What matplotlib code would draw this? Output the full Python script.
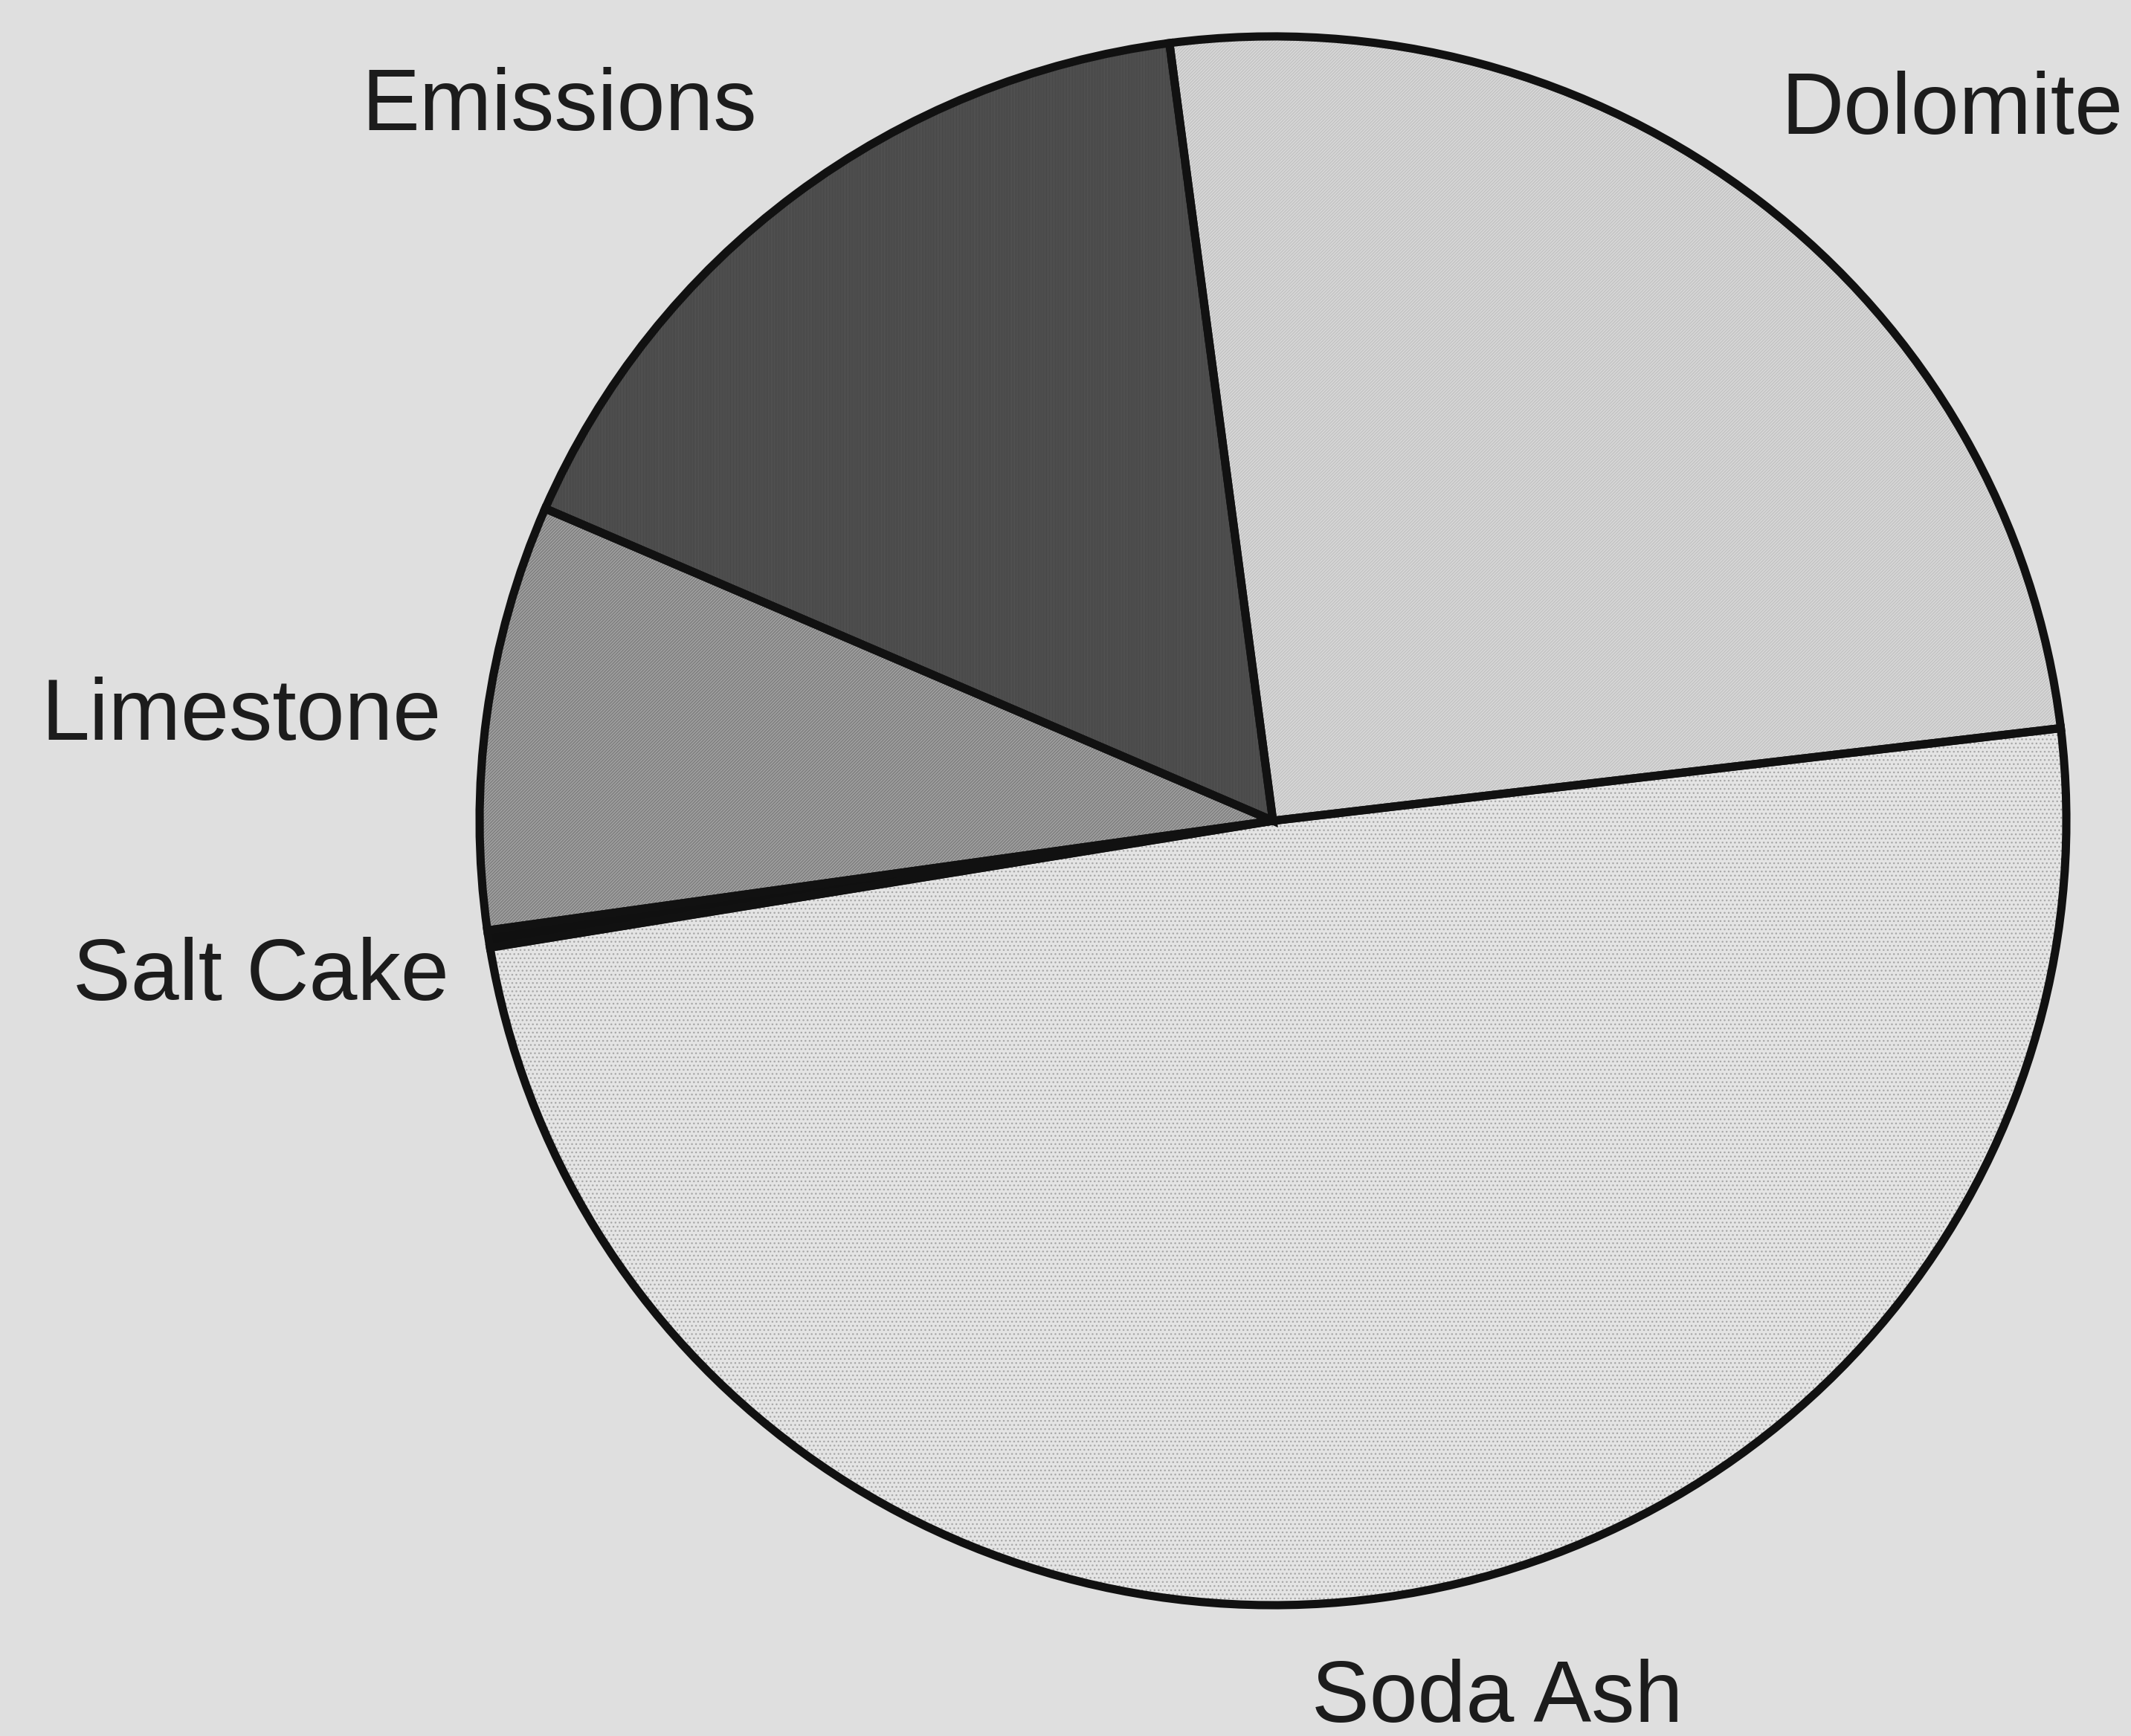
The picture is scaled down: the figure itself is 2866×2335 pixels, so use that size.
import matplotlib.pyplot as plt

# batch composition, clockwise from the top
materials = ['Dolomite', 'Soda Ash', 'Salt Cake', 'Limestone', 'Emissions']
share = [25.2, 49.3, 0.35, 8.75, 16.4]

# fill / hatch styling per slice
face_colors = ['#d9d9d9', '#e4e4e4', '#101010', '#a2a2a2', '#5e5e5e']
hatch_colors = ['#c2c2c2', '#a8a8a8', '#101010', '#7c7c7c', '#444444']
hatches = ['////////', '...', '', '////////', '||||||||']

# label anchor (x, baseline y, alignment) in pie units
label_pos = [(0.640, 0.876, 'left'), (0.049, -1.149, 'left'),
             (-1.039, -0.228, 'right'), (-1.048, 0.103, 'right'),
             (-0.650, 0.881, 'right')]

plt.rcParams['font.family'] = ['Liberation Sans', 'DejaVu Sans']
plt.rcParams['hatch.linewidth'] = 1.0

bg = '#dfdfdf'
fig = plt.figure(figsize=(28.66, 23.35), dpi=100, facecolor=bg)
ax = fig.add_axes([0, 0, 1, 1])
ax.set_facecolor(bg)

# filled, hatched wedges
wedges, _ = ax.pie(share, startangle=97.5, counterclock=False,
                   colors=face_colors, wedgeprops=dict(linewidth=0))
for w, h, hc in zip(wedges, hatches, hatch_colors):
    w.set_hatch(h)
    w.set_edgecolor(hc)

# black outlines on top
ax.pie(share, startangle=97.5, counterclock=False,
       wedgeprops=dict(linewidth=8, edgecolor='#111111', fill=False))

for name, (x, y, ha) in zip(materials, label_pos):
    ax.text(x, y, name, ha=ha, va='baseline', fontsize=84, color='#1c1c1c')

ax.set_aspect('auto')
ax.set_xlim(-1.6045, 1.0815)
ax.set_ylim(-1.1668, 1.0464)
ax.axis('off')

fig.savefig('out.png', dpi=100, facecolor=bg)
